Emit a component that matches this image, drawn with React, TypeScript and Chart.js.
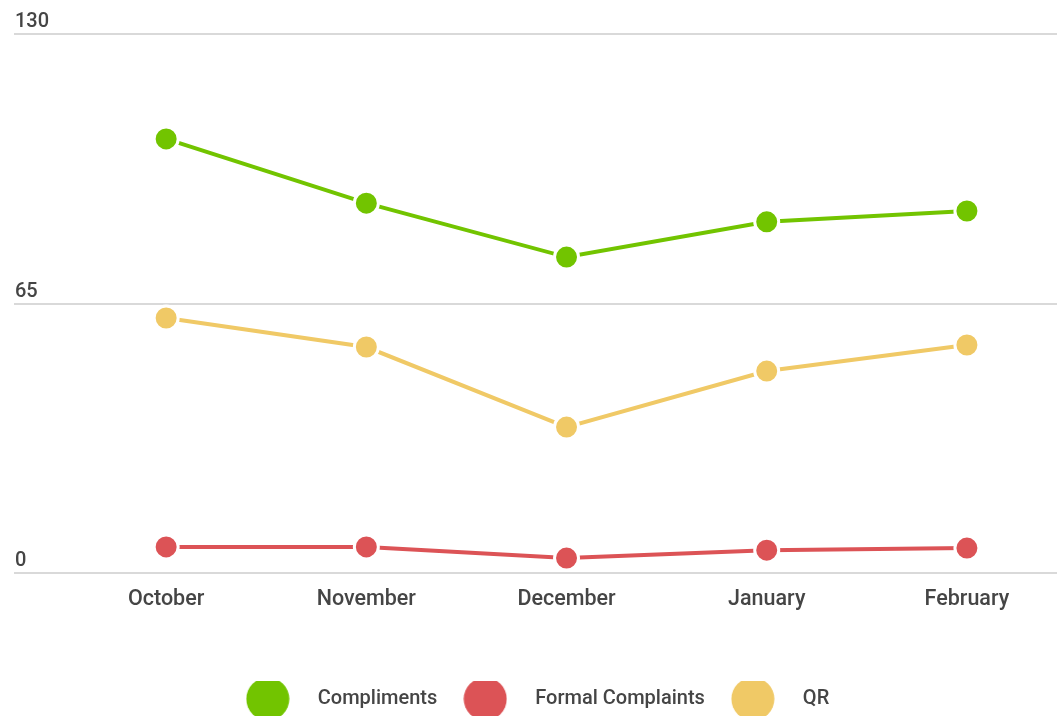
import React, { useEffect, useRef } from "react";
import { Chart, registerables } from "chart.js";

Chart.register(...registerables);

const MONTHS = ["October", "November", "December", "January", "February"];
const COMPLIMENTS = [104.7, 89.2, 76.2, 84.7, 87.3];
const FORMAL_COMPLAINTS = [6.3, 6.3, 3.6, 5.5, 6.0];
const QR = [61.5, 54.5, 35.2, 48.7, 55.0];
const Y_TICKS = [0, 65, 130];

const GREEN = "#72c400";
const RED = "#dc5356";
const YELLOW = "#f0c966";
const TEXT = "#454545";

function makeDot(color: string): HTMLCanvasElement {
  const c = document.createElement("canvas");
  c.width = 44;
  c.height = 44;
  const ctx = c.getContext("2d")!;
  ctx.fillStyle = color;
  ctx.beginPath();
  ctx.arc(22, 22, 21.5, 0, Math.PI * 2);
  ctx.fill();
  return c;
}

export default function App() {
  const ref = useRef<HTMLCanvasElement | null>(null);

  useEffect(() => {
    if (!ref.current) return;
    const toPts = (arr: number[]) => arr.map((y, i) => ({ x: i, y }));
    const mk = (label: string, arr: number[], color: string) => ({
      label,
      data: toPts(arr),
      borderColor: color,
      backgroundColor: color,
      borderWidth: 4,
      pointRadius: 12,
      pointHoverRadius: 12,
      pointBorderColor: "#ffffff",
      pointBorderWidth: 3,
      pointBackgroundColor: color,
      pointStyle: "circle" as const,
      tension: 0,
    });
    const dots = [makeDot(GREEN), makeDot(RED), makeDot(YELLOW)];
    const font = { family: "Roboto", size: 20, weight: 500 as any };
    const xFont = { family: "Roboto", size: 21.5, weight: 500 as any };
    const chart = new Chart(ref.current, {
      type: "line",
      data: {
        datasets: [
          mk("Compliments", COMPLIMENTS, GREEN),
          mk("Formal Complaints", FORMAL_COMPLAINTS, RED),
          mk("QR", QR, YELLOW),
        ],
      },
      options: {
        animation: false,
        responsive: false,
        maintainAspectRatio: false,
        layout: { autoPadding: false, padding: { top: 34, left: 0, right: 0, bottom: -3 } },
        plugins: {
          tooltip: { enabled: false },
          legend: {
            position: "bottom",
            labels: {
              usePointStyle: true,
              pointStyleWidth: 80,
              padding: 8,
              color: TEXT,
              font,
              generateLabels: (chart: any) =>
                chart.data.datasets.map((ds: any, i: number) => ({
                  text: ds.label,
                  fillStyle: ds.borderColor,
                  strokeStyle: ds.borderColor,
                  lineWidth: 0,
                  pointStyle: dots[i],
                  hidden: false,
                  datasetIndex: i,
                  fontColor: TEXT,
                })),
            },
          },
        },
        scales: {
          x: {
            type: "linear",
            min: -0.76,
            max: 4.45,
            grid: { display: false },
            border: { display: false },
            afterBuildTicks: (scale: any) => {
              scale.ticks = MONTHS.map((_, i) => ({ value: i }));
            },
            afterFit: (scale: any) => {
              scale.height = 108;
              scale.paddingLeft = 0;
              scale.paddingRight = 0;
            },
            ticks: {
              autoSkip: false,
              maxRotation: 0,
              padding: 6,
              color: TEXT,
              font: xFont,
              callback: (v: any) => MONTHS[Math.round(Number(v))] ?? "",
            },
          },
          y: {
            min: 0,
            max: 130,
            afterBuildTicks: (scale: any) => {
              scale.ticks = Y_TICKS.map((v) => ({ value: v }));
            },
            afterFit: (scale: any) => {
              scale.width = 14;
              scale.paddingTop = 0;
              scale.paddingBottom = 0;
            },
            grid: { color: "#d9d9d9", lineWidth: 2, drawTicks: false },
            border: { display: false },
            ticks: {
              mirror: true,
              padding: 1,
              labelOffset: -12,
              color: TEXT,
              font,
            },
          },
        },
      },
    });
    return () => chart.destroy();
  }, []);

  return (
    <div style={{ position: "fixed", left: 0, top: 0, width: 1057, height: 716, background: "#fff" }}>
      <canvas ref={ref} width={1057} height={716} style={{ display: "block", width: 1057, height: 716 }} />
    </div>
  );
}
